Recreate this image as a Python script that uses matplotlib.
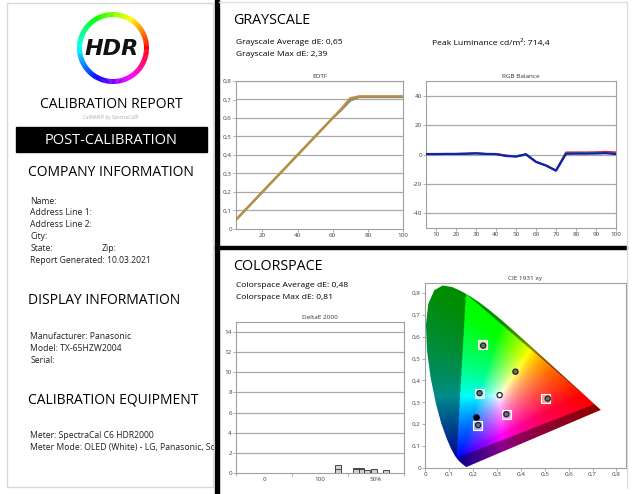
import numpy as np
import matplotlib
matplotlib.use('Agg')
import matplotlib.pyplot as plt
from matplotlib.patches import Rectangle, Wedge, Polygon
from matplotlib.path import Path
import colorsys

plt.rcParams['font.family'] = ['Open Sans', 'DejaVu Sans']
plt.rcParams['axes.unicode_minus'] = False
plt.rcParams['hatch.color'] = '#303030'
plt.rcParams['hatch.linewidth'] = 0.6

# ---- data ----
eotf_x = [5, 10, 15, 20, 25, 30, 35, 40, 45, 50, 55, 60, 65, 70, 75, 80, 85, 90, 95, 100]
eotf_target = [0.05, 0.10, 0.15, 0.20, 0.25, 0.30, 0.35, 0.40, 0.45, 0.50, 0.55, 0.60, 0.645, 0.695,
               0.714, 0.714, 0.714, 0.714, 0.714, 0.714]
eotf_measured = [0.05, 0.10, 0.15, 0.20, 0.25, 0.30, 0.35, 0.40, 0.45, 0.50, 0.55, 0.60, 0.652, 0.708,
                 0.718, 0.718, 0.718, 0.718, 0.718, 0.718]

rgb_x = eotf_x
rgb_red = [0.3, 0.3, 0.4, 0.4, 0.6, 0.7, 0.4, 0.3, -0.6, -1.2, 0.3, -5.0, -7.5, -10.8,
           1.5, 1.5, 1.5, 1.6, 1.9, 1.5]
rgb_green = [0.3, 0.3, 0.4, 0.4, 0.6, 0.9, 0.4, 0.3, -0.8, -1.3, 0.2, -5.0, -7.5, -10.9,
             0.8, 0.9, 0.9, 1.0, 1.1, 0.6]
rgb_blue = [0.3, 0.3, 0.4, 0.4, 0.5, 0.8, 0.4, 0.3, -1.0, -1.4, 0.0, -5.0, -7.5, -11.0,
            0.5, 0.6, 0.6, 0.7, 0.9, 0.3]

de_groups = ['0', '100', '50%']
de_pos = [1.82, 2.14, 2.24, 2.34, 2.46, 2.68]
de_values = [0.81, 0.53, 0.53, 0.33, 0.40, 0.33]

# CIE 1931 spectral locus (380..700 nm)
locus_x = [0.1741, 0.1714, 0.1644, 0.1566, 0.1440, 0.1355, 0.1241, 0.1096, 0.0913, 0.0687, 0.0454,
           0.0235, 0.0082, 0.0039, 0.0139, 0.0389, 0.0743, 0.1142, 0.1547, 0.1929, 0.2296, 0.2658,
           0.3016, 0.3373, 0.3731, 0.4087, 0.4441, 0.4788, 0.5125, 0.5448, 0.5752, 0.6029, 0.6270,
           0.6658, 0.6915, 0.7079, 0.7190, 0.7300, 0.7347]
locus_y = [0.0050, 0.0051, 0.0109, 0.0177, 0.0297, 0.0399, 0.0578, 0.0868, 0.1327, 0.2007, 0.2950,
           0.4127, 0.5384, 0.6548, 0.7502, 0.8120, 0.8338, 0.8262, 0.8059, 0.7816, 0.7543, 0.7243,
           0.6923, 0.6589, 0.6245, 0.5896, 0.5547, 0.5202, 0.4866, 0.4544, 0.4242, 0.3965, 0.3725,
           0.3340, 0.3083, 0.2920, 0.2809, 0.2700, 0.2653]
gamut_x = [0.708, 0.170, 0.131]
gamut_y = [0.292, 0.797, 0.046]

target_x = [0.241, 0.228, 0.502, 0.340, 0.220]
target_y = [0.566, 0.342, 0.317, 0.246, 0.194]
target_c = ['#b8ffa0', '#b0ffff', '#ffa0a0', '#ffa8ff', '#b0b0ff']
meas_x = [0.243, 0.378, 0.228, 0.312, 0.513, 0.340, 0.222]
meas_y = [0.559, 0.440, 0.342, 0.333, 0.317, 0.246, 0.196]
meas_fill = ['#707070', '#707070', '#707070', 'white', '#707070', '#707070', '#707070']
dot_x = [0.213]
dot_y = [0.232]

W, H = 640, 494
fig = plt.figure(figsize=(6.4, 4.94), dpi=100)

# overlay axes in pixel units
bg = fig.add_axes([0, 0, 1, 1])
bg.set_xlim(0, W)
bg.set_ylim(H, 0)
bg.axis('off')

bg.add_patch(Rectangle((7, 3), 206, 484, fill=False, ec='#d8d8d8', lw=1))

# logo ring
for a in range(0, 360, 2):
    hue = ((-a - 1) % 360) / 360.0
    col = colorsys.hsv_to_rgb(hue, 1, 1)
    bg.add_patch(Wedge((113, 48), 36, a, a + 2.5, width=5, color=col, lw=0))
bg.text(112, 49, 'HDR', ha='center', va='center', fontsize=16, fontweight='bold',
        style='italic', family='DejaVu Sans', color='#111111')

bg.text(111, 104, 'CALIBRATION REPORT', ha='center', va='center', fontsize=10)
bg.text(111, 117, 'CalMAN® by SpectraCal®', ha='center', va='center', fontsize=3.3, color='#aaaaaa')
bg.add_patch(Rectangle((16, 127), 191, 25, color='black'))
bg.text(111, 140, 'POST-CALIBRATION', ha='center', va='center', fontsize=10.5, color='white')

headings = [('COMPANY INFORMATION', 172), ('DISPLAY INFORMATION', 300), ('CALIBRATION EQUIPMENT', 400)]
for txt, yy in headings:
    bg.text(28, yy, txt, ha='left', va='center', fontsize=10)

info = [('Name:', 201), ('Address Line 1:', 212.5), ('Address Line 2:', 224), ('City:', 236),
        ('State:', 248), ('Report Generated: 10.03.2021', 260),
        ('Manufacturer: Panasonic', 336), ('Model: TX-65HZW2004', 348.5), ('Serial:', 360.5),
        ('Meter: SpectraCal C6 HDR2000', 435.5), ('Meter Mode: OLED (White) - LG, Panasonic, Sony', 447.5)]
for txt, yy in info:
    bg.text(30.5, yy, txt, ha='left', va='center', fontsize=6.2, color='#202020')
bg.text(101.5, 248, 'Zip:', ha='left', va='center', fontsize=6.2, color='#202020')

# cover overflow + separators
bg.add_patch(Rectangle((213.5, 0), 426, 494, color='white', zorder=5))
bg.add_patch(Rectangle((215, 0), 4, 494, color='black', zorder=6))
bg.add_patch(Rectangle((215, 245.5), 412, 3.5, color='black', zorder=6))
bg.plot([219, 627, 627], [2, 2, 488], color='#e0e0e0', lw=1, zorder=6)

bg.text(233, 20, 'GRAYSCALE', ha='left', va='center', fontsize=10.3, zorder=7)
bg.text(236.5, 42.5, 'Grayscale Average dE: 0,65', ha='left', va='center', fontsize=6.1, zorder=7)
bg.text(236.5, 54, 'Grayscale Max dE: 2,39', ha='left', va='center', fontsize=6.1, zorder=7)
bg.text(432, 42.5, 'Peak Luminance cd/m²: 714,4', ha='left', va='center', fontsize=6.1, zorder=7)
bg.text(233, 266, 'COLORSPACE', ha='left', va='center', fontsize=10.3, zorder=7)
bg.text(236.5, 285, 'Colorspace Average dE: 0,48', ha='left', va='center', fontsize=6.1, zorder=7)
bg.text(236.5, 297.5, 'Colorspace Max dE: 0,81', ha='left', va='center', fontsize=6.1, zorder=7)


def px_axes(l, t, r, b):
    return fig.add_axes([l / W, 1 - b / H, (r - l) / W, (b - t) / H])


def style(ax, title):
    for s in ax.spines.values():
        s.set_color('#a0a0a0')
        s.set_linewidth(0.8)
    ax.tick_params(labelsize=4.5, colors='#a0a0a0', labelcolor='#404040', length=2, width=0.6, pad=1)
    ax.set_title(title, fontsize=4.6, pad=2, color='#303030')


def comma(v):
    return '0' if v == 0 else ('%.1f' % v).replace('.', ',')


# EOTF
ax1 = px_axes(236, 81, 403, 229)
style(ax1, 'EOTF')
for v in np.arange(0.1, 0.85, 0.1):
    ax1.axhline(v, color='#a8a8a8', lw=0.9, zorder=1)
ax1.plot(eotf_x, eotf_target, color='#8c8c8c', lw=1.8, zorder=2)
ax1.plot(eotf_x, eotf_measured, color='#c09030', lw=1.4, zorder=3)
ax1.set_xlim(5, 100)
ax1.set_ylim(0, 0.8)
ax1.set_xticks([20, 40, 60, 80, 100])
yt = [0, 0.1, 0.2, 0.3, 0.4, 0.5, 0.6, 0.7, 0.8]
ax1.set_yticks(yt)
ax1.set_yticklabels([comma(v) for v in yt])

# RGB balance
ax2 = px_axes(426, 81, 616, 228)
style(ax2, 'RGB Balance')
for v in [-40, -20, 0, 20, 40]:
    ax2.axhline(v, color='#a8a8a8', lw=0.9, zorder=1)
ax2.plot(rgb_x, rgb_red, color='#e02040', lw=1.3, zorder=2)
ax2.plot(rgb_x, rgb_green, color='#20b040', lw=1.3, zorder=3)
ax2.plot(rgb_x, rgb_blue, color='#1020b0', lw=1.6, zorder=4)
ax2.set_xlim(5, 100)
ax2.set_ylim(-50, 50)
ax2.set_xticks(range(10, 101, 10))
ax2.set_yticks([-40, -20, 0, 20, 40])

# DeltaE 2000
ax3 = px_axes(236, 322, 404, 473)
style(ax3, 'DeltaE 2000')
for v in range(2, 15, 2):
    ax3.axhline(v, color='#a8a8a8', lw=0.9, zorder=1)
ax3.bar(de_pos, de_values, width=0.1, color='#d0d0d0', edgecolor='#303030', lw=0.6,
        hatch='---', zorder=3)
ax3.set_xlim(0, 3)
ax3.set_ylim(0, 15)
ax3.set_yticks(range(0, 15, 2))
ax3.set_xticks([0, 1, 2, 3])
ax3.set_xticklabels([])
ax3.set_xticks([0.5, 1.5, 2.5], minor=True)
ax3.set_xticklabels(de_groups, minor=True)
ax3.tick_params(axis='x', which='minor', length=0, labelsize=4.5, labelcolor='#404040', pad=3)

# CIE 1931
ax4 = px_axes(425, 283, 626, 468)
style(ax4, 'CIE 1931 xy')
gx, gy = np.meshgrid(np.linspace(0.0, 0.75, 400), np.linspace(0.001, 0.85, 400))
X = gx / gy
Z = (1 - gx - gy) / gy
M = np.array([[3.2406, -1.5372, -0.4986], [-0.9689, 1.8758, 0.0415], [0.0557, -0.2040, 1.0570]])
rgb = np.stack([M[i, 0] * X + M[i, 1] + M[i, 2] * Z for i in range(3)], axis=-1)
rgb = np.clip(rgb, 0, None)
rgb = rgb / np.maximum(rgb.max(axis=-1, keepdims=True), 1e-9)
rgb = rgb ** (1 / 1.3)
tri = Path(np.column_stack([gamut_x, gamut_y]))
inside = tri.contains_points(np.column_stack([gx.ravel(), gy.ravel()])).reshape(gx.shape)
rgb[~inside] *= 0.55
im = ax4.imshow(rgb, origin='lower', extent=(0, 0.75, 0.001, 0.85), aspect='auto', zorder=1)
locus = Polygon(np.column_stack([locus_x, locus_y]), closed=True, fc='none', ec='none',
                transform=ax4.transData)
ax4.add_patch(locus)
im.set_clip_path(locus)
ax4.scatter(target_x, target_y, marker='s', s=42, c=target_c, edgecolors='white', lw=0.8, zorder=3)
ax4.scatter(meas_x, meas_y, marker='o', s=14, c=meas_fill, edgecolors='#202020', lw=0.9, zorder=4)
ax4.scatter(dot_x, dot_y, marker='o', s=14, c='black', zorder=4)
ax4.set_xlim(0, 0.84)
ax4.set_ylim(0, 0.845)
ct = [0, 0.1, 0.2, 0.3, 0.4, 0.5, 0.6, 0.7, 0.8]
ax4.set_xticks(ct)
ax4.set_xticklabels([comma(v) for v in ct])
ax4.set_yticks(ct)
ax4.set_yticklabels([comma(v) for v in ct])

fig.savefig('out.png', dpi=100)
